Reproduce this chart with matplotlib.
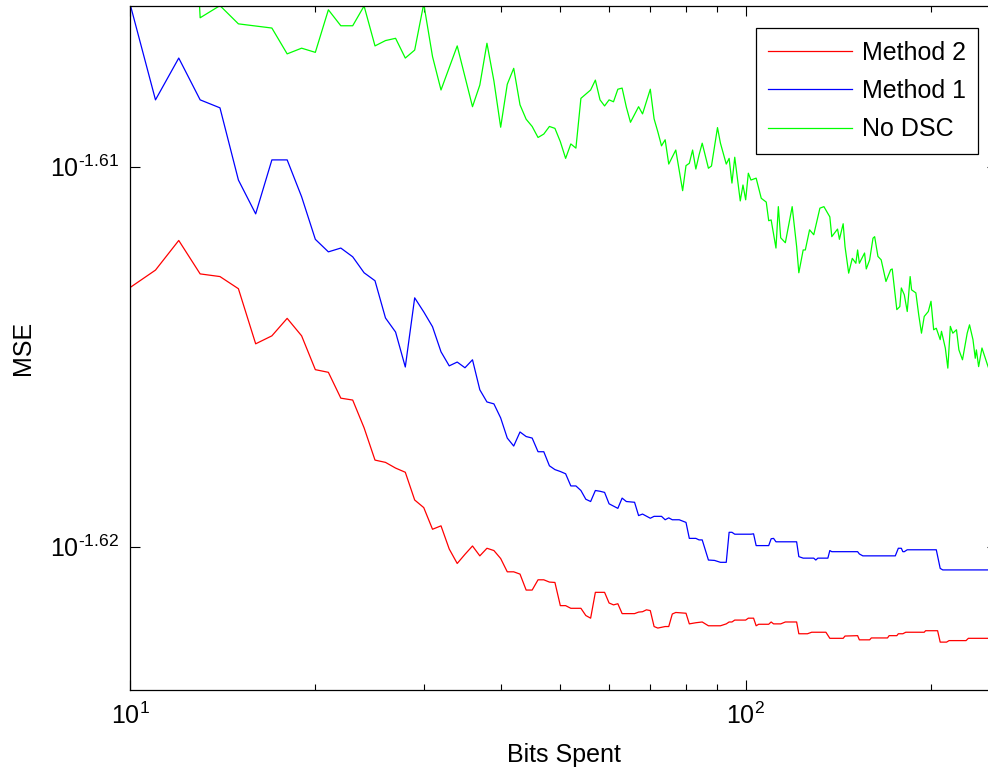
import numpy as np
import matplotlib.pyplot as plt
from matplotlib.ticker import FixedLocator, NullLocator, NullFormatter

plt.rcParams['font.family'] = 'Liberation Sans'
plt.rcParams['mathtext.fontset'] = 'custom'
plt.rcParams['mathtext.rm'] = 'Liberation Sans'
plt.rcParams['mathtext.it'] = 'Liberation Sans:italic'
plt.rcParams['mathtext.bf'] = 'Liberation Sans:bold'

# values: bits spent vs log10(MSE)
m2_bits = [10, 11, 12, 13, 14, 15, 16, 17, 18, 19,
           20, 21, 22, 23, 24, 25, 26, 27, 28, 29,
           30, 31, 32, 33, 34, 35, 36, 37, 38, 39,
           40, 41, 42, 43, 44, 45, 46, 47, 48, 49,
           50, 51, 52, 54, 55, 56, 57, 59, 60, 61,
           62, 63, 66, 67, 68, 69, 70, 71, 72, 73,
           74, 75, 76, 77, 80, 81, 83, 85, 87, 91,
           93, 94, 95, 96, 100, 101, 103, 104, 105, 109,
           110, 111, 114, 116, 121, 122, 126, 128, 135, 137,
           144, 145, 152, 153, 159, 160, 170, 171, 176, 177,
           180, 182, 195, 196, 205, 207, 212, 214, 228, 230,
           256]
m2_logmse = [-1.61318, -1.61272, -1.61194, -1.61282, -1.61289, -1.61321, -1.61466, -1.61445, -1.61399, -1.61445,
             -1.61534, -1.61541, -1.61609, -1.61614, -1.61687, -1.61772, -1.61778, -1.61793, -1.61804, -1.61877,
             -1.61897, -1.61954, -1.61945, -1.62006, -1.62044, -1.62020, -1.61998, -1.62024, -1.62004, -1.62010,
             -1.62031, -1.62066, -1.62066, -1.62072, -1.62114, -1.62114, -1.62087, -1.62087, -1.62093, -1.62094,
             -1.62155, -1.62155, -1.62162, -1.62162, -1.62181, -1.62188, -1.62120, -1.62120, -1.62148, -1.62153,
             -1.62150, -1.62176, -1.62176, -1.62172, -1.62171, -1.62166, -1.62168, -1.62210, -1.62214, -1.62212,
             -1.62210, -1.62210, -1.62177, -1.62173, -1.62175, -1.62203, -1.62200, -1.62198, -1.62208, -1.62208,
             -1.62203, -1.62198, -1.62198, -1.62193, -1.62193, -1.62188, -1.62188, -1.62208, -1.62204, -1.62204,
             -1.62198, -1.62203, -1.62203, -1.62198, -1.62198, -1.62229, -1.62229, -1.62225, -1.62225, -1.62241,
             -1.62241, -1.62235, -1.62234, -1.62245, -1.62245, -1.62240, -1.62240, -1.62234, -1.62234, -1.62229,
             -1.62229, -1.62225, -1.62225, -1.62221, -1.62221, -1.62251, -1.62251, -1.62247, -1.62247, -1.62241,
             -1.62241]

m1_bits = [10, 11, 12, 13, 14, 15, 16, 17, 18, 19,
           20, 21, 22, 23, 24, 25, 26, 27, 28, 29,
           30, 31, 32, 33, 34, 35, 36, 37, 38, 39,
           40, 41, 42, 43, 44, 45, 46, 47, 48, 49,
           50, 51, 52, 53, 54, 55, 56, 57, 58, 59,
           60, 62, 63, 64, 66, 67, 68, 70, 71, 73,
           74, 75, 76, 78, 80, 81, 83, 84, 85, 87,
           89, 91, 93, 94, 95, 96, 102, 103, 104, 109,
           110, 111, 112, 121, 122, 124, 129, 130, 131, 136,
           137, 138, 152, 153, 155, 175, 177, 179, 180, 181,
           183, 204, 207, 209, 256]
m1_logmse = [-1.60571, -1.60824, -1.60714, -1.60824, -1.60845, -1.61035, -1.61124, -1.60982, -1.60982, -1.61079,
             -1.61191, -1.61224, -1.61214, -1.61237, -1.61279, -1.61300, -1.61398, -1.61435, -1.61527, -1.61345,
             -1.61382, -1.61421, -1.61487, -1.61524, -1.61514, -1.61529, -1.61508, -1.61587, -1.61619, -1.61624,
             -1.61661, -1.61714, -1.61735, -1.61698, -1.61710, -1.61714, -1.61750, -1.61750, -1.61787, -1.61797,
             -1.61802, -1.61808, -1.61840, -1.61840, -1.61852, -1.61875, -1.61881, -1.61852, -1.61854, -1.61857,
             -1.61887, -1.61899, -1.61872, -1.61881, -1.61883, -1.61918, -1.61914, -1.61925, -1.61920, -1.61920,
             -1.61929, -1.61924, -1.61929, -1.61929, -1.61936, -1.61978, -1.61978, -1.61982, -1.61982, -1.62035,
             -1.62036, -1.62041, -1.62041, -1.61962, -1.61962, -1.61967, -1.61967, -1.61966, -1.61997, -1.61997,
             -1.61979, -1.61978, -1.61987, -1.61987, -1.62026, -1.62030, -1.62030, -1.62035, -1.62030, -1.62030,
             -1.62010, -1.62013, -1.62013, -1.62019, -1.62024, -1.62024, -1.62004, -1.62004, -1.62013, -1.62013,
             -1.62008, -1.62008, -1.62057, -1.62061, -1.62061]

nodsc_bits = [12, 13, 14, 15, 17, 18, 19, 20, 21, 22,
              23, 24, 25, 26, 27, 28, 29, 30, 31, 32,
              34, 36, 37, 38, 39, 40, 41, 42, 43, 44,
              45, 46, 47, 48, 49, 50, 51, 52, 53, 54,
              56, 57, 58, 59, 60, 61, 62, 63, 64, 65,
              67, 68, 70, 71, 72, 73, 74, 75, 77, 79,
              80, 81, 82, 83, 84, 85, 87, 88, 90, 91,
              93, 94, 95, 96, 98, 99, 100, 101, 102, 104,
              106, 108, 109, 110, 112, 113, 114, 116, 119, 121,
              122, 124, 125, 127, 129, 132, 134, 137, 138, 141,
              142, 144, 145, 147, 149, 151, 152, 153, 156, 157,
              159, 161, 162, 164, 166, 169, 172, 173, 176, 178,
              179, 181, 183, 185, 186, 189, 191, 193, 195, 198,
              200, 202, 204, 207, 208, 211, 213, 215, 217, 220,
              222, 225, 229, 231, 234, 236, 237, 239, 242, 245,
              247, 248]
nodsc_logmse = [-1.59500, -1.60608, -1.60576, -1.60624, -1.60635, -1.60703, -1.60688, -1.60699, -1.60587, -1.60629,
                -1.60629, -1.60577, -1.60682, -1.60668, -1.60662, -1.60714, -1.60693, -1.60571, -1.60710, -1.60798,
                -1.60682, -1.60842, -1.60785, -1.60675, -1.60774, -1.60896, -1.60783, -1.60741, -1.60837, -1.60875,
                -1.60894, -1.60923, -1.60914, -1.60894, -1.60899, -1.60934, -1.60978, -1.60940, -1.60951, -1.60820,
                -1.60798, -1.60772, -1.60824, -1.60840, -1.60824, -1.60829, -1.60796, -1.60793, -1.60843, -1.60883,
                -1.60842, -1.60861, -1.60796, -1.60874, -1.60908, -1.60945, -1.60929, -1.60993, -1.60956, -1.61063,
                -1.60997, -1.60991, -1.60956, -1.61006, -1.60969, -1.60938, -1.61004, -1.60998, -1.60897, -1.60938,
                -1.60993, -1.60978, -1.61043, -1.60975, -1.61090, -1.61048, -1.61087, -1.61017, -1.61035, -1.61030,
                -1.61083, -1.61093, -1.61142, -1.61140, -1.61214, -1.61105, -1.61187, -1.61200, -1.61105, -1.61210,
                -1.61279, -1.61219, -1.61219, -1.61166, -1.61179, -1.61109, -1.61105, -1.61132, -1.61184, -1.61164,
                -1.61191, -1.61150, -1.61210, -1.61280, -1.61241, -1.61254, -1.61219, -1.61254, -1.61227, -1.61269,
                -1.61245, -1.61188, -1.61184, -1.61236, -1.61245, -1.61302, -1.61271, -1.61269, -1.61376, -1.61368,
                -1.61319, -1.61337, -1.61381, -1.61289, -1.61324, -1.61332, -1.61389, -1.61438, -1.61394, -1.61381,
                -1.61354, -1.61429, -1.61425, -1.61455, -1.61433, -1.61477, -1.61530, -1.61420, -1.61438, -1.61429,
                -1.61482, -1.61508, -1.61438, -1.61416, -1.61455, -1.61504, -1.61482, -1.61526, -1.61477, -1.61504,
                -1.61521, -1.61529]

x_major = [10, 100]
x_major_labels = [r'$10^{1}$', r'$10^{2}$']
x_minor = [20, 30, 40, 50, 60, 70, 80, 90, 200]
y_major_exp = [-1.62, -1.61]
y_major_labels = [r'$10^{\text{-1.62}}$', r'$10^{\text{-1.61}}$']

fig = plt.figure(figsize=(9.88, 7.7), dpi=100)
ax = fig.add_axes([130 / 988, 80 / 770, 867 / 988, 684 / 770])

ax.plot(m2_bits, 10 ** np.array(m2_logmse), color='#ff0000', lw=0.9, label='Method 2')
ax.plot(m1_bits, 10 ** np.array(m1_logmse), color='#0000ff', lw=0.9, label='Method 1')
ax.plot(nodsc_bits, 10 ** np.array(nodsc_logmse), color='#00ff00', lw=0.9, label='No DSC')

ax.set_xscale('log')
ax.set_yscale('log')
ax.set_xlim(10, 256)
ax.set_ylim(10 ** -1.62377, 10 ** -1.60577)

ax.xaxis.set_major_locator(FixedLocator(x_major))
ax.set_xticklabels(x_major_labels)
ax.xaxis.set_minor_locator(FixedLocator(x_minor))
ax.xaxis.set_minor_formatter(NullFormatter())
ax.yaxis.set_major_locator(FixedLocator([10 ** e for e in y_major_exp]))
ax.set_yticklabels(y_major_labels)
ax.yaxis.set_minor_locator(NullLocator())

ax.tick_params(which='both', direction='in', top=True, right=True, width=0.8, labelsize=18)
ax.tick_params(which='major', length=7)
ax.tick_params(which='minor', length=4.3)
ax.tick_params(axis='x', which='major', pad=9)
ax.tick_params(axis='y', which='major', pad=8)
for s in ax.spines.values():
    s.set_linewidth(0.9)

ax.set_xlabel('Bits Spent', fontsize=18)
ax.set_ylabel('MSE', fontsize=18)
ax.xaxis.set_label_coords(0.5, -0.078)
ax.yaxis.set_label_coords(-0.1096, 0.5)

leg = ax.legend(loc='upper right', bbox_to_anchor=(978.3 / 988, 1 - 28.3 / 770),
                bbox_transform=fig.transFigure, borderaxespad=0, fontsize=18,
                fancybox=False, framealpha=1, edgecolor='black',
                handlelength=3.35, handletextpad=0.4, labelspacing=0.57, borderpad=0.5)
leg.get_frame().set_linewidth(0.9)

fig.savefig('out.png', dpi=100)
